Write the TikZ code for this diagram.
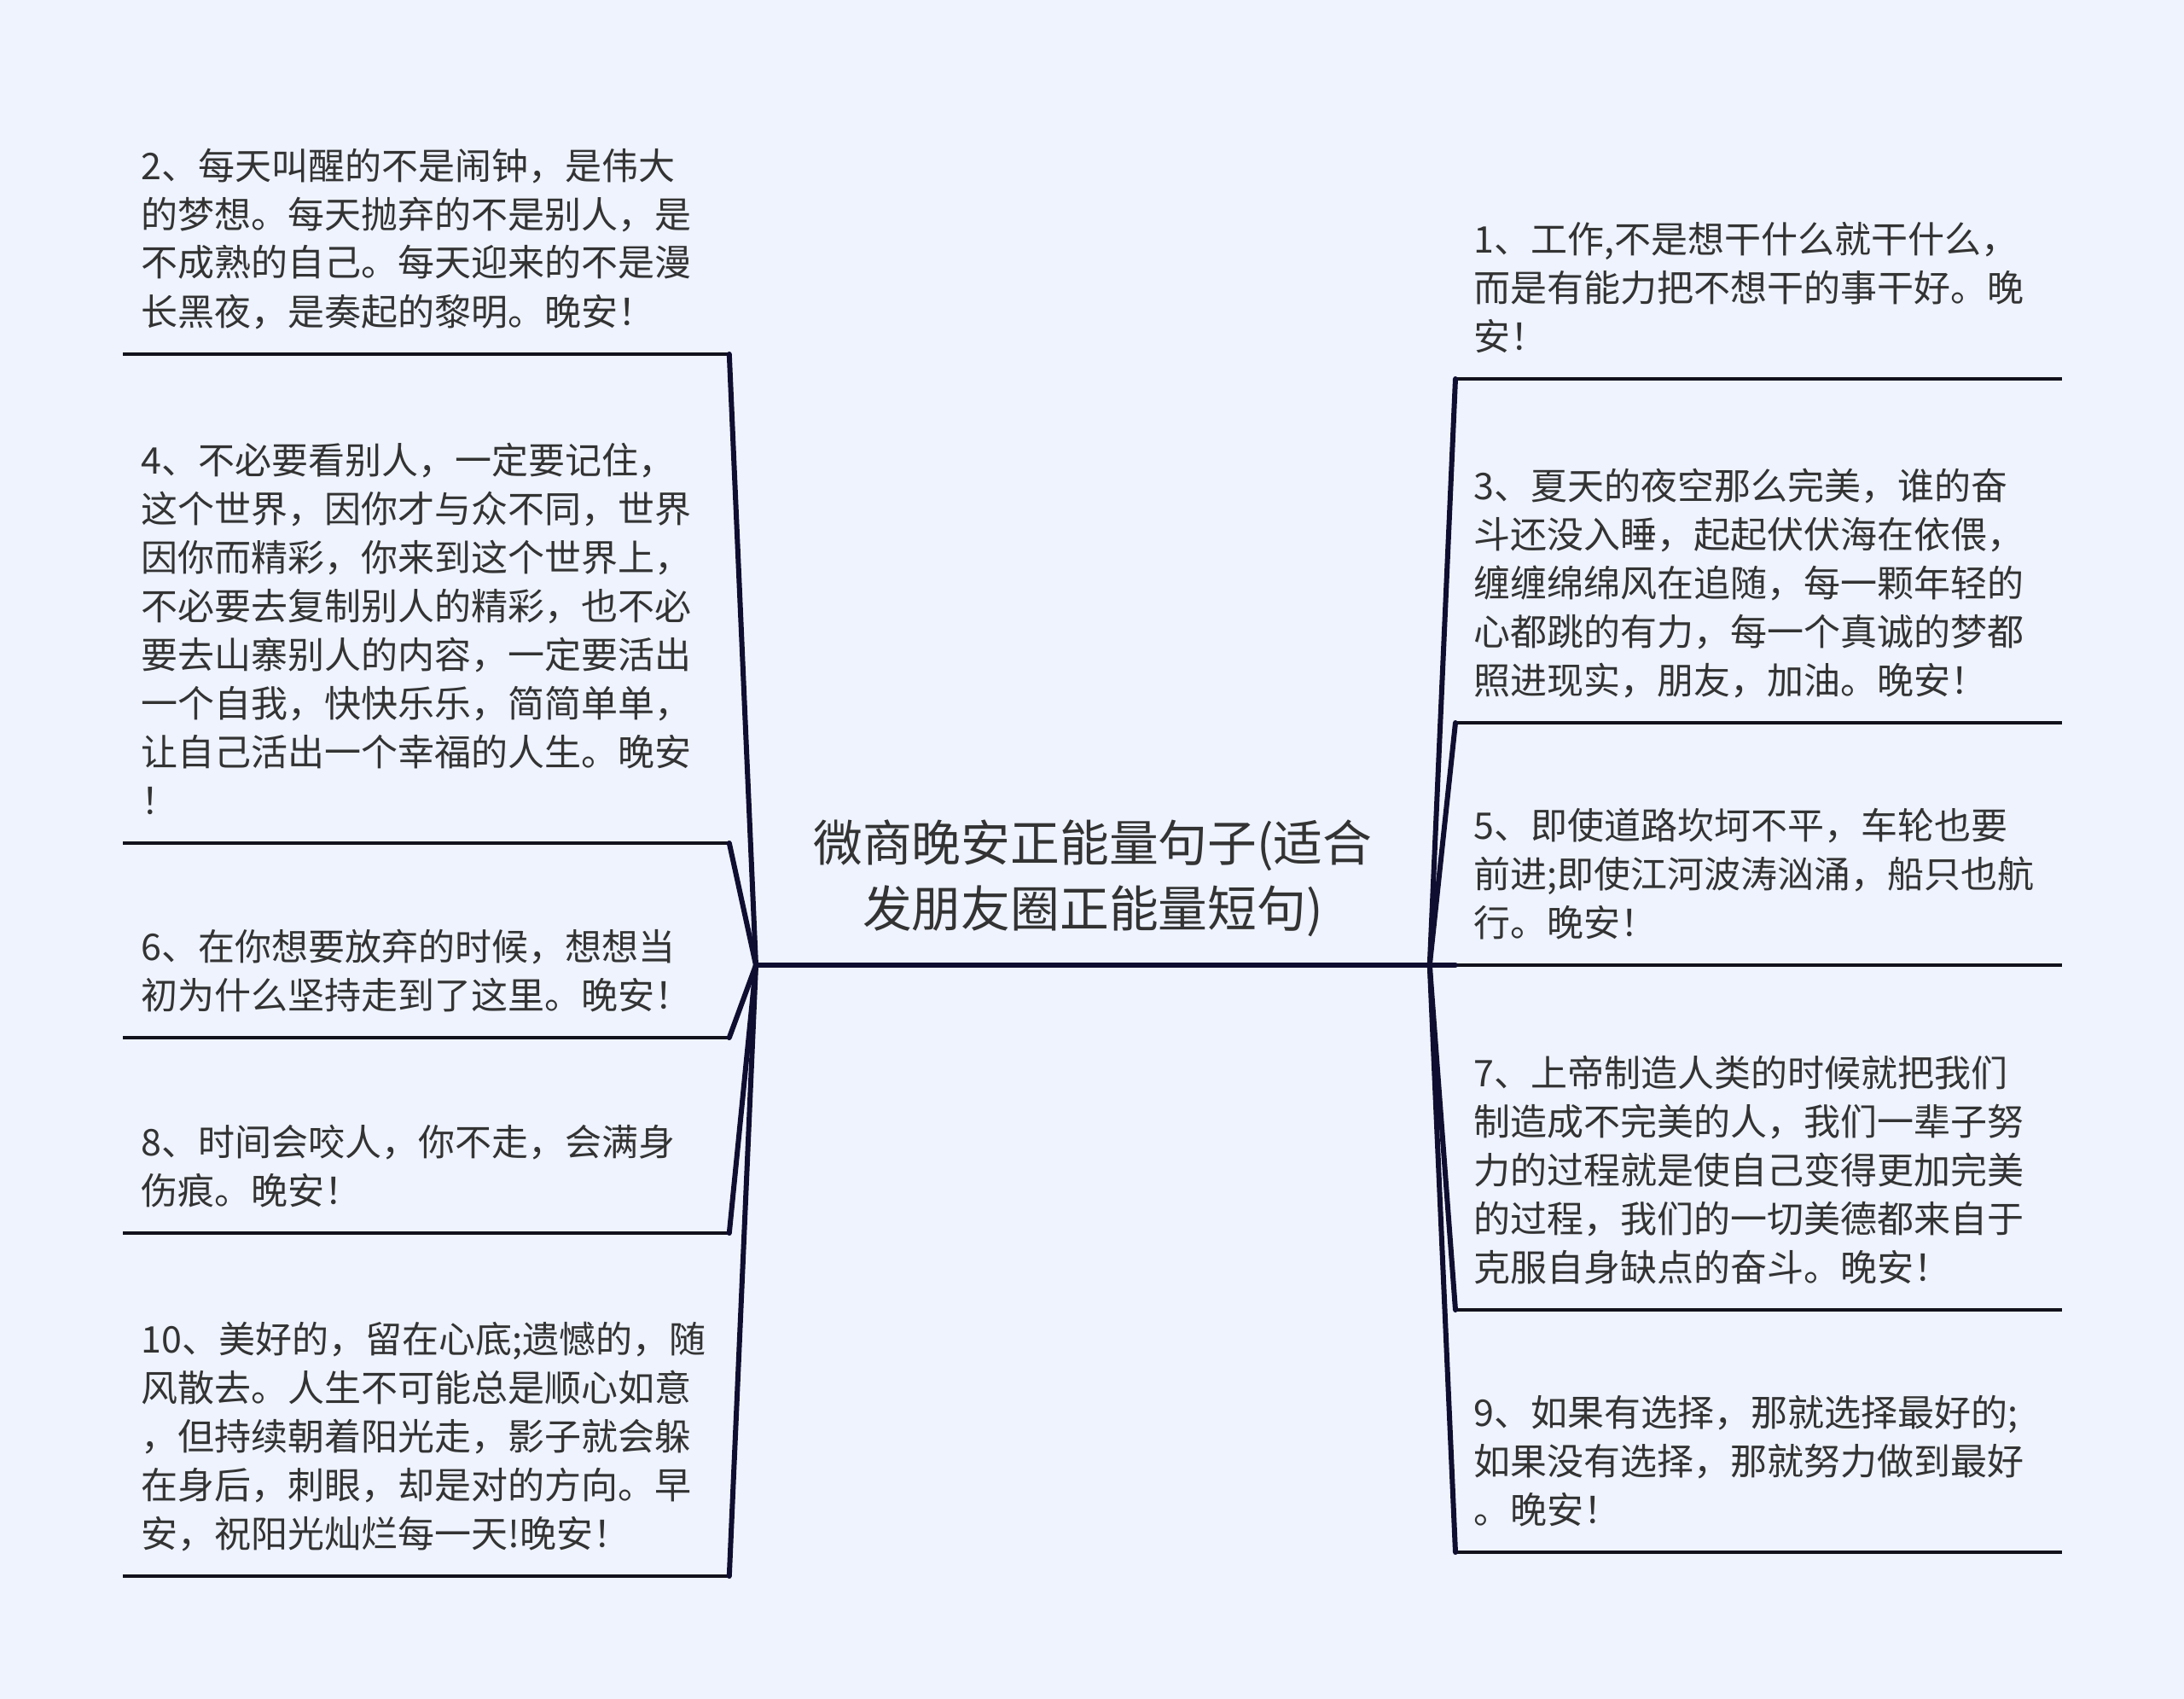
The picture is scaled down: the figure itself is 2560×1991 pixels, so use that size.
\documentclass[tikz,border=0pt]{standalone}
\usepackage{fontspec}
\setmainfont{Noto Sans CJK SC}

\definecolor{bgblue}{RGB}{238,243,254}
\definecolor{linknavy}{RGB}{16,14,48}
\definecolor{barblack}{RGB}{18,18,28}
\definecolor{textgray}{RGB}{51,51,51}

% depth of the last line, so that every bar sits the same distance below the text
\newcommand{\leafend}{\rule[-8.5pt]{0pt}{8.5pt}}
\newcommand{\rootend}{\rule[-11.5pt]{0pt}{11.5pt}}

\tikzset{
    leaf/.style={anchor=south west, text width=334pt, inner xsep=10.5pt, inner ysep=8.3pt,
        align=left, text=textgray, font=\fontsize{21.5pt}{28.5pt}\selectfont},
    topic/.style={anchor=south west, text width=350pt, inner xsep=22.25pt, inner ysep=10.5pt,
        align=center, text=textgray, font=\fontsize{28.9pt}{38.5pt}\selectfont},
    bar/.style={draw=barblack, line width=2.3pt},
    link/.style={draw=linknavy, line width=3pt, line cap=round, line join=round},
}

\begin{document}
\begin{tikzpicture}[x=0.5pt,y=-0.5pt]
        \fill[bgblue] (0,0) rectangle (2560,1991);
        \useasboundingbox (0,0) rectangle (2560,1991);

        % centre
        \node[topic] (root) at (886,1131) {微商晚安正能量句子(适合\\发朋友圈正能量短句)\rootend};

        % left side
        \node[leaf] (l2) at (144,415) {2、每天叫醒的不是闹钟，是伟大\\的梦想。每天抛弃的不是别人，是\\不成熟的自己。每天迎来的不是漫\\长黑夜，是奏起的黎明。晚安！\leafend};
        \node[leaf] (l4) at (144,988) {4、不必要看别人，一定要记住，\\这个世界，因你才与众不同，世界\\因你而精彩，你来到这个世界上，\\不必要去复制别人的精彩，也不必\\要去山寨别人的内容，一定要活出\\一个自我，快快乐乐，简简单单，\\让自己活出一个幸福的人生。晚安\\！\leafend};
        \node[leaf] (l6) at (144,1216) {6、在你想要放弃的时候，想想当\\初为什么坚持走到了这里。晚安！\leafend};
        \node[leaf] (l8) at (144,1445) {8、时间会咬人，你不走，会满身\\伤痕。晚安！\leafend};
        \node[leaf] (l10) at (144,1847) {10、美好的，留在心底;遗憾的，随\\风散去。人生不可能总是顺心如意\\，但持续朝着阳光走，影子就会躲\\在身后，刺眼，却是对的方向。早\\安，祝阳光灿烂每一天!晚安！\leafend};

        % right side
        \node[leaf] (r1) at (1706,444) {1、工作,不是想干什么就干什么，\\而是有能力把不想干的事干好。晚\\安！\leafend};
        \node[leaf] (r3) at (1706,847) {3、夏天的夜空那么完美，谁的奋\\斗还没入睡，起起伏伏海在依偎，\\缠缠绵绵风在追随，每一颗年轻的\\心都跳的有力，每一个真诚的梦都\\照进现实，朋友，加油。晚安！\leafend};
        \node[leaf] (r5) at (1706,1131) {5、即使道路坎坷不平，车轮也要\\前进;即使江河波涛汹涌，船只也航\\行。晚安！\leafend};
        \node[leaf] (r7) at (1706,1535) {7、上帝制造人类的时候就把我们\\制造成不完美的人，我们一辈子努\\力的过程就是使自己变得更加完美\\的过程，我们的一切美德都来自于\\克服自身缺点的奋斗。晚安！\leafend};
        \node[leaf] (r9) at (1706,1819) {9、如果有选择，那就选择最好的;\\如果没有选择，那就努力做到最好\\。晚安！\leafend};

        \foreach \n in {l2,l4,l6,l8,l10} {
            \draw[bar] (\n.south west) -- (\n.south east);
            \draw[link] (root.south west) -- (\n.south east);
        }
        \foreach \n in {r1,r3,r5,r7,r9} {
            \draw[bar] (\n.south west) -- (\n.south east);
            \draw[link] (root.south east) -- (\n.south west);
        }
        \draw[link] (root.south west) -- (root.south east);

    \end{tikzpicture}
\end{document}
